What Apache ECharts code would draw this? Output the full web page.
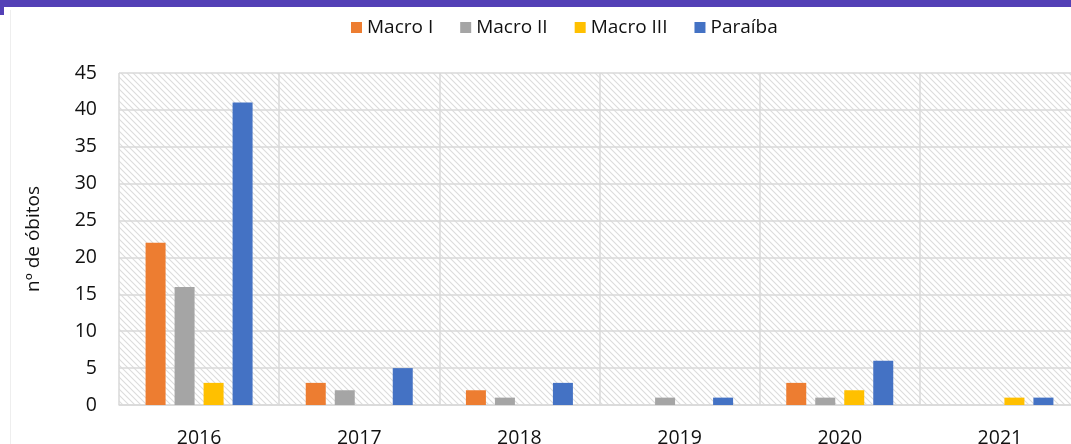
<!DOCTYPE html>
<html><head><meta charset="utf-8">
<script src="https://cdn.jsdelivr.net/npm/echarts@6/dist/echarts.min.js"></script>
<style>html,body{margin:0;padding:0;background:#fff}#c{width:1071px;height:444px}</style>
</head><body><div id="c"></div>
<script>
const categories = ['2016','2017','2018','2019','2020','2021'];
const seriesNames = ['Macro I','Macro II','Macro III','Paraíba'];
const macroI = [22,3,2,0,3,0];
const macroII = [16,2,1,1,1,0];
const macroIII = [3,0,0,0,2,1];
const paraiba = [41,5,3,1,6,1];
const yTicks = [0,5,10,15,20,25,30,35,40,45];
const colors = ['#ED7D31','#A5A5A5','#FFC000','#4472C4'];

// hatch pattern
const pc = document.createElement('canvas');
pc.width = 6; pc.height = 6;
const g = pc.getContext('2d');
g.fillStyle = '#ffffff'; g.fillRect(0,0,6,6);
g.strokeStyle = '#dcdcdc'; g.lineWidth = 1.1;
g.beginPath();
g.moveTo(0,0); g.lineTo(6,6);
g.moveTo(-3,3); g.lineTo(3,9);
g.moveTo(3,-3); g.lineTo(9,3);
g.stroke();

const chart = echarts.init(document.getElementById('c'), null, {renderer:'canvas'});
const font = 'Open Sans';
const data = [macroI, macroII, macroIII, paraiba];
chart.setOption({
  animation:false,
  textStyle:{fontFamily:font},
  legend:{
    top:13, left:346,
    itemWidth:11, itemHeight:11, itemGap:27,
    icon:'rect',
    textStyle:{fontFamily:font,fontSize:19,color:'#111'},
    data:seriesNames
  },
  graphic:[
    {type:'rect',shape:{x:0,y:0,width:1071,height:7},style:{fill:'#5340B6'}},
    {type:'rect',shape:{x:0,y:7,width:4,height:8},style:{fill:'#5340B6'}},
    {type:'line',shape:{x1:10.5,y1:10,x2:10.5,y2:444},style:{stroke:'#eeeeee',lineWidth:1}}
  ],
  grid:{left:119,right:-9,top:73,bottom:39,show:true,borderWidth:0,
        outerBoundsMode:'none', containLabel:false,
        backgroundColor:{image:pc,repeat:'repeat'}},
  xAxis:{
    type:'category', data:categories,
    axisLine:{show:true,lineStyle:{color:'#D9D9D9',width:1.5}},
    axisTick:{show:false},
    splitLine:{show:true,lineStyle:{color:'#D9D9D9',width:1.5}},
    axisLabel:{fontFamily:font,fontSize:19.5,color:'#111',margin:23}
  },
  yAxis:{
    type:'value', min:0, max:45, interval:5,
    name:'nº de óbitos', nameLocation:'middle', nameGap:76, nameRotate:90,
    nameTextStyle:{fontFamily:font,fontSize:19,color:'#111'},
    axisLine:{show:false}, axisTick:{show:false},
    splitLine:{show:true,lineStyle:{color:'#D9D9D9',width:1.5}},
    axisLabel:{fontFamily:font,fontSize:19.5,color:'#111',margin:22,
      formatter:v=>yTicks.includes(v)?String(v):''}
  },
  series: seriesNames.map((n,i)=>({
    name:n, type:'bar', data:data[i], barWidth:20, barGap:'45%',
    itemStyle:{color:colors[i]}
  }))
});
</script></body></html>
